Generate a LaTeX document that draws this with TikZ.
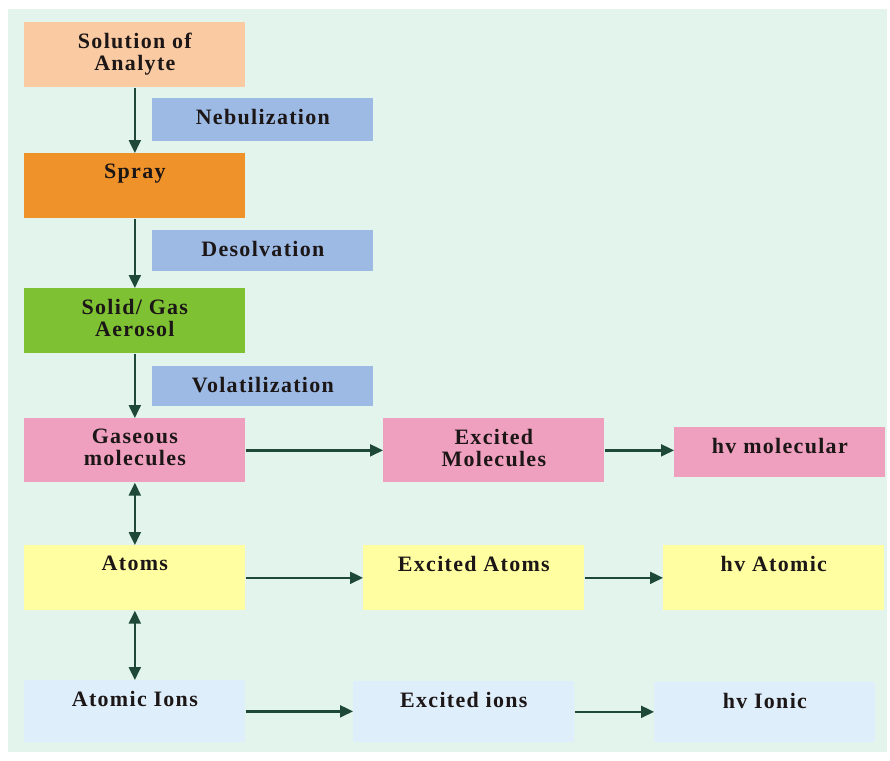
\documentclass[tikz,border=0pt]{standalone}
\usepackage{fontspec}
\setmainfont{Liberation Serif}[LetterSpace=6]
\usepackage{xcolor}
\usepackage{tikz}
\usetikzlibrary{positioning, arrows.meta, calc}

\definecolor{bgmint}{RGB}{226,244,236}
\definecolor{peach}{RGB}{250,202,162}
\definecolor{sprayorange}{RGB}{240,146,42}
\definecolor{aerogreen}{RGB}{126,194,52}
\definecolor{stepblue}{RGB}{156,186,228}
\definecolor{molpink}{RGB}{239,160,190}
\definecolor{atomyellow}{RGB}{255,255,162}
\definecolor{ionblue}{RGB}{222,238,250}
\definecolor{arrowgreen}{RGB}{30,72,56}
\definecolor{inkdark}{RGB}{28,22,22}

\begin{document}
\begin{tikzpicture}[
        >={Triangle[length=0.26cm, width=0.24cm]},
        box_style/.style={draw=none, minimum width=4.42cm, minimum height=1.3cm, inner sep=0pt, anchor=north west},
        step_style/.style={box_style, minimum height=0.84cm, fill=stepblue},
        text_style/.style={anchor=north, yshift=-0.21cm, inner sep=0pt, align=center,
            font=\bfseries\fontsize{12.5}{12.5}\selectfont, text=inkdark},
        arrow_style/.style={->, line width=1.3pt, draw=arrowgreen},
        both_style/.style={<->, line width=1.3pt, draw=arrowgreen}
    ]

    % =========================================================================
    % 1. PAGE AND BACKGROUND
    % =========================================================================
    \fill[white] (0,0) rectangle (17.8,-15.2);
    \useasboundingbox (0,0) rectangle (17.8,-15.2);
    \fill[bgmint] (0.16,-0.18) rectangle (17.74,-15.04);

    % =========================================================================
    % 2. LEFT COLUMN (Sample path)
    % =========================================================================
    \node[box_style, fill=peach, label={[text_style]north:{Solution of\\Analyte}}] (solution) at (0.48,-0.44) {};
    \node[box_style, fill=sprayorange, label={[text_style]north:Spray}] (spray) at (0.48,-3.06) {};
    \node[box_style, fill=aerogreen, label={[text_style]north:{Solid/ Gas\\Aerosol}}] (aerosol) at (0.48,-5.76) {};
    \node[box_style, fill=molpink, minimum height=1.28cm, label={[text_style]north:{Gaseous\\molecules}}] (gaseous) at (0.48,-8.36) {};
    \node[box_style, fill=atomyellow, label={[text_style]north:Atoms}] (atoms) at (0.48,-10.9) {};
    \node[box_style, fill=ionblue, minimum height=1.24cm, label={[text_style]north:Atomic Ions}] (ions) at (0.48,-13.6) {};

    % Process steps beside the arrows
    \node[step_style, minimum height=0.86cm, label={[text_style]north:Nebulization}] (nebul) at (3.04,-1.96) {};
    \node[step_style, minimum height=0.82cm, label={[text_style]north:Desolvation}] (desolv) at (3.04,-4.6) {};
    \node[step_style, minimum height=0.80cm, label={[text_style]north:Volatilization}] (volat) at (3.04,-7.32) {};

    % =========================================================================
    % 3. EXCITED STATES AND EMISSION
    % =========================================================================
    \node[box_style, fill=molpink, minimum height=1.28cm, label={[text_style]north:{Excited\\Molecules}}] (exmol) at (7.66,-8.36) {};
    \node[box_style, fill=molpink, minimum width=4.22cm, minimum height=1.0cm, label={[text_style]north:hv molecular}] (hvmol) at (13.48,-8.54) {};

    \node[box_style, fill=atomyellow, label={[text_style]north:Excited Atoms}] (exatoms) at (7.26,-10.9) {};
    \node[box_style, fill=atomyellow, label={[text_style]north:hv Atomic}] (hvatomic) at (13.26,-10.9) {};

    \node[box_style, fill=ionblue, minimum height=1.22cm, label={[text_style]north:Excited ions}] (exions) at (7.06,-13.62) {};
    \node[box_style, fill=ionblue, minimum height=1.2cm, label={[text_style]north:hv Ionic}] (hvionic) at (13.08,-13.64) {};

    % =========================================================================
    % 4. ARROWS
    % =========================================================================
    \draw[arrow_style] (solution) -- (spray);
    \draw[arrow_style] (spray) -- (aerosol);
    \draw[arrow_style] (aerosol) -- (gaseous);
    \draw[both_style] (gaseous) -- (atoms);
    \draw[both_style] (atoms) -- (ions);

    \draw[arrow_style] (gaseous) -- (exmol);
    \draw[arrow_style] (exmol.east) -- (exmol.east -| hvmol.west);
    \draw[arrow_style] (atoms) -- (exatoms);
    \draw[arrow_style] (exatoms) -- (hvatomic);
    \draw[arrow_style] (ions) -- (ions -| exions.west);
    \draw[arrow_style] (exions.east) -- (exions.east -| hvionic.west);

\end{tikzpicture}
\end{document}
